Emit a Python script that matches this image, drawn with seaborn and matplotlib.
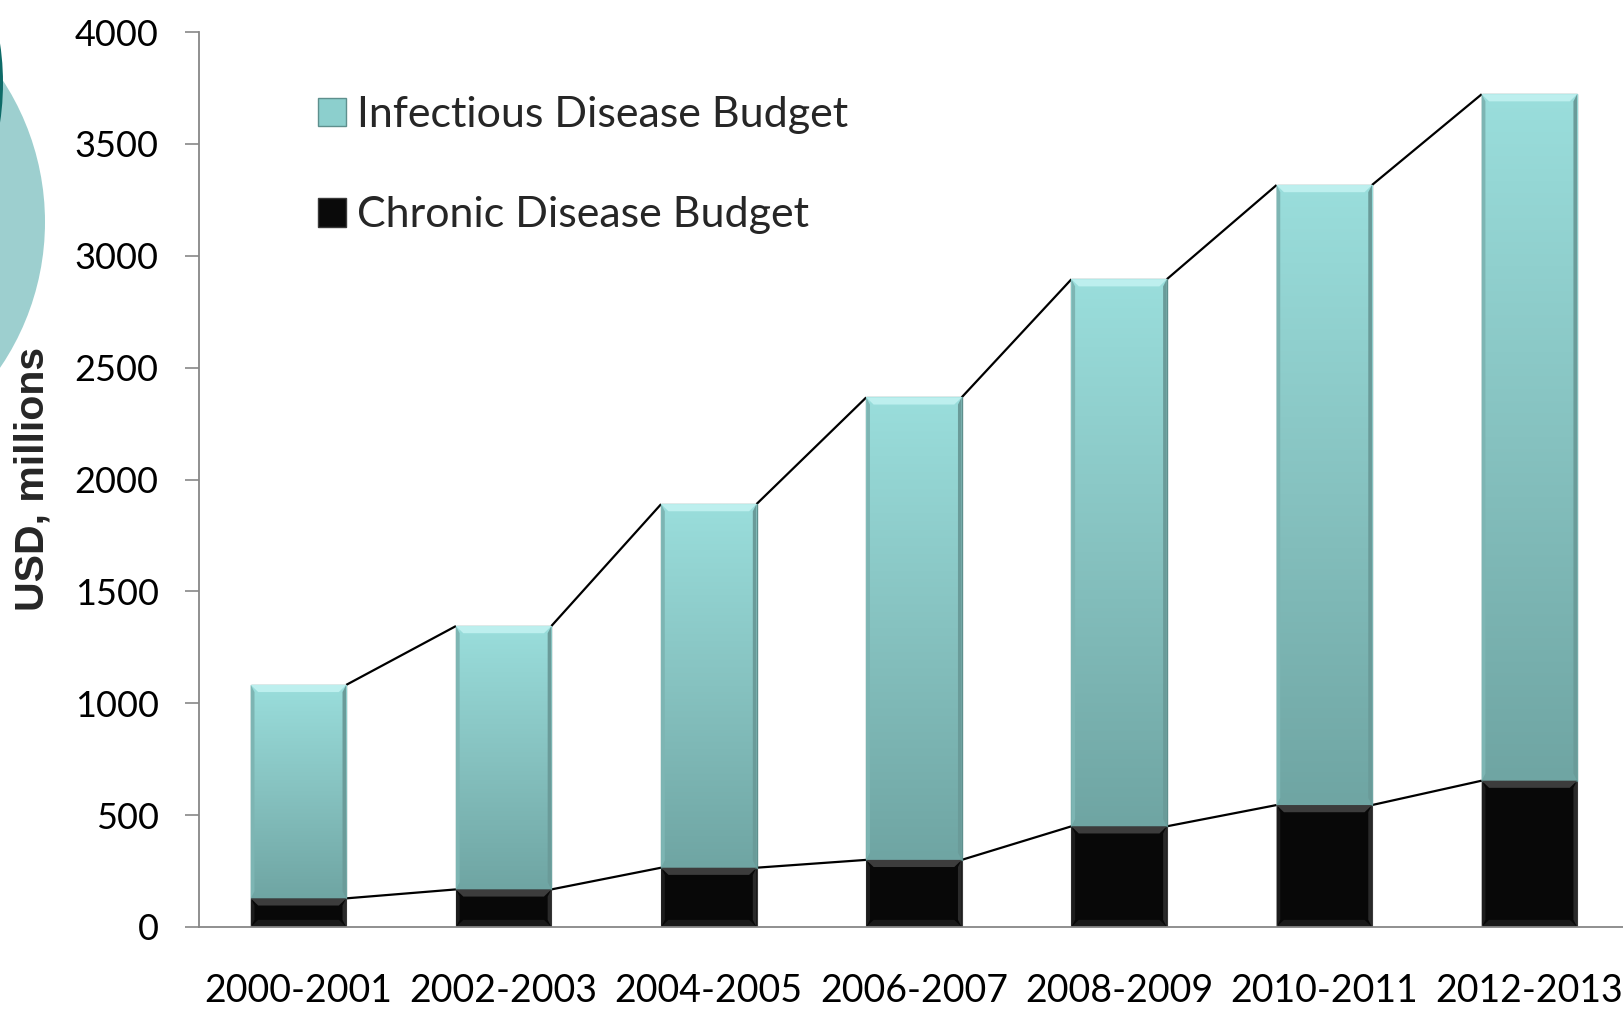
import numpy as np
import pandas as pd
import matplotlib
matplotlib.use("Agg")
import matplotlib.pyplot as plt
from matplotlib.colors import LinearSegmentedColormap
from matplotlib.patches import Polygon, Circle, Patch
import seaborn as sns

# ---- data (USD, millions) ----
periods = ["2000-2001", "2002-2003", "2004-2005", "2006-2007",
           "2008-2009", "2010-2011", "2012-2013"]
chronic = [128, 168, 265, 300, 450, 545, 654]
infectious = [954, 1177, 1625, 2067, 2445, 2771, 3068]
series_names = ["Infectious Disease Budget", "Chronic Disease Budget"]
yticks = [0, 500, 1000, 1500, 2000, 2500, 3000, 3500, 4000]

df = pd.DataFrame({"period": periods, "chronic": chronic, "infectious": infectious})
totals = [c + i for c, i in zip(chronic, infectious)]

sns.set_theme(style="white")
plt.rcParams["font.family"] = ["Lato", "DejaVu Sans"]

W, H = 1624, 1010
fig = plt.figure(figsize=(W / 100, H / 100), dpi=100)
fig.patch.set_facecolor("white")

# decorative circles at the left margin (figure pixel space)
deco = fig.add_axes([0, 0, 1, 1], zorder=0)
deco.set_xlim(0, W)
deco.set_ylim(H, 0)
deco.axis("off")
deco.add_patch(Circle((-214, 222), 259, color="#9DCFCF", lw=0))
deco.add_patch(Circle((-265, 83), 268, color="#0E6B68", lw=0))

# main axes
ax = fig.add_axes([199 / W, 83 / H, 1433 / W, 895 / H], zorder=1)
ax.patch.set_alpha(0)

bar_w = 0.465
sns.barplot(data=df, x="period", y="chronic", color="#080808", width=bar_w,
            saturation=1, errorbar=None, ax=ax, zorder=3)
sns.barplot(data=df, x="period", y="infectious", color="#8CCFCD", width=bar_w,
            saturation=1, errorbar=None, ax=ax, zorder=3)

chronic_bars = ax.containers[0]
infect_bars = ax.containers[1]

teal = LinearSegmentedColormap.from_list("teal", ["#6FA5A3", "#86C2C0", "#9ADEDC"])
grad = np.linspace(0, 1, 256).reshape(-1, 1)

dx, dy = 0.036, 32  # bevel size in data units


def bevel(p, top_c, bot_c, side_l, side_r):
    x0, y0 = p.get_x(), p.get_y()
    x1, y1 = x0 + p.get_width(), y0 + p.get_height()
    h = min(dy, p.get_height() / 3)
    polys = [
        ([(x0, y1), (x1, y1), (x1 - dx, y1 - h), (x0 + dx, y1 - h)], top_c),
        ([(x0, y0), (x1, y0), (x1 - dx, y0 + h), (x0 + dx, y0 + h)], bot_c),
        ([(x0, y0), (x0, y1), (x0 + dx * 0.5, y1 - h), (x0 + dx * 0.5, y0 + h)], side_l),
        ([(x1, y0), (x1, y1), (x1 - dx * 0.5, y1 - h), (x1 - dx * 0.5, y0 + h)], side_r),
    ]
    for pts, c in polys:
        ax.add_patch(Polygon(pts, closed=True, fc=c, ec="none", zorder=4))


# infectious segments sit on top of the chronic ones, filled with a vertical gradient
for p, base in zip(infect_bars, chronic):
    p.set_y(base)
    x0, y0 = p.get_x(), p.get_y()
    x1, y1 = x0 + p.get_width(), y0 + p.get_height()
    im = ax.imshow(grad, extent=[x0, x1, y0, y1], origin="lower", cmap=teal,
                   aspect="auto", zorder=3, interpolation="bilinear")
    im.set_clip_path(p)
    p.set_facecolor("none")
    p.set_edgecolor("#5E8F8D")
    p.set_linewidth(1.0)
    bevel(p, "#BDEFEE", "#64999700", "#7DB5B3", "#6A9B99")

for p in chronic_bars:
    p.set_edgecolor("#3A3A3A")
    p.set_linewidth(0.8)
    bevel(p, "#3C3C3C", "#1A1A1A", "#1C1C1C", "#2A2A2A")

# series lines joining the bar tops
for i in range(len(periods) - 1):
    xa, xb = i + bar_w / 2, i + 1 - bar_w / 2
    ax.plot([xa, xb], [totals[i], totals[i + 1]], color="black", lw=1.6, zorder=2,
            solid_capstyle="butt")
    ax.plot([xa, xb], [chronic[i], chronic[i + 1]], color="black", lw=1.6, zorder=2,
            solid_capstyle="butt")

ax.set_xlim(-0.485, 6.5)
ax.set_ylim(0, 4000)
ax.set_yticks(yticks)
ax.set_yticklabels([str(v) for v in yticks])
ax.set_xlabel("")
ax.set_ylabel("")

for s in ("top", "right"):
    ax.spines[s].set_visible(False)
for s in ("left", "bottom"):
    ax.spines[s].set_color("#878787")
    ax.spines[s].set_linewidth(1.3)
    ax.spines[s].set_zorder(5)

ax.tick_params(axis="y", direction="out", length=10, width=1.2, color="#878787",
               pad=19, labelsize=26, left=True, labelcolor="black")
ax.tick_params(axis="x", length=0, pad=33, labelsize=27, labelcolor="black")

fig.text(33 / W, 1 - 479 / H, "USD, millions", rotation=90, ha="center", va="center",
         fontsize=29.5, fontweight="bold", family=["Liberation Sans", "DejaVu Sans"])

handles = [Patch(fc="#8CCFCD", ec="#5E8F8D", lw=1.0),
           Patch(fc="#0A0A0A", ec="#3A3A3A", lw=1.0)]
ax.legend(handles, series_names, loc="upper left",
          bbox_to_anchor=(318 / W, 1 - 96 / H), bbox_transform=fig.transFigure,
          frameon=False, fontsize=31, handlelength=0.65, handleheight=0.65,
          handletextpad=0.25, labelspacing=1.45, borderpad=0, borderaxespad=0)

fig.savefig("out.png", dpi=100, facecolor="white")
